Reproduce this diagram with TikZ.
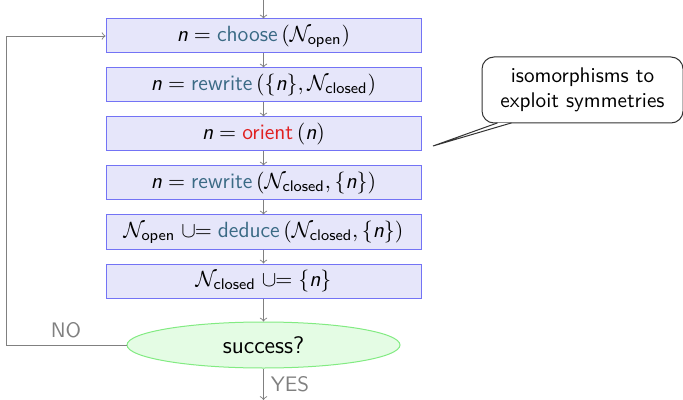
\documentclass[tikz,border=0pt]{standalone}
\usepackage{amsmath}
\usetikzlibrary{shapes.geometric}
\definecolor{fnblue}{RGB}{58,106,133}
\definecolor{fnred}{RGB}{224,32,32}
\definecolor{boxfill}{RGB}{230,230,250}
\definecolor{boxline}{RGB}{115,115,245}
\definecolor{ellfill}{RGB}{228,252,228}
\definecolor{ellline}{RGB}{130,235,130}
\definecolor{flowgray}{RGB}{128,128,128}
\newcommand{\nv}{\text{\sffamily\itshape n}}
\newcommand{\fn}[1]{\text{\sffamily\color{fnblue}#1}}
\newcommand{\sub}[1]{\text{\sffamily #1}}
\newcommand{\cupeq}{\mathrel{\cup\!\!=}}
\begin{document}
\begin{tikzpicture}[x=0.5pt,y=-0.5pt,
  stepbox/.style={draw=boxline,fill=boxfill,line width=0.5pt,minimum width=157.5pt,minimum height=17pt,inner sep=0pt,font=\sffamily\fontsize{11}{13}\selectfont},
  decision/.style={ellipse,draw=ellline,fill=ellfill,line width=0.5pt,minimum width=136.5pt,minimum height=23pt,inner sep=0pt,font=\sffamily\fontsize{12}{14}\selectfont},
  flow/.style={draw=flowgray,line width=0.45pt,-to},
  lbl/.style={text=flowgray,font=\sffamily\fontsize{10.5}{12}\selectfont},
  note/.style={draw=black!80,fill=white,rounded corners=6pt,line width=0.5pt,minimum width=100.5pt,minimum height=33pt,align=center,inner sep=0pt,font=\sffamily\fontsize{10.6}{12.5}\selectfont}]
\useasboundingbox (0,0) rectangle (683,400);
\coordinate (top) at (263.5,0);
\node[stepbox] (b1) at (263.5,36) {$\nv = \fn{choose}\,(\mathcal{N}_{\sub{open}})$};
\node[stepbox] (b2) at (263.5,85) {$\nv = \fn{rewrite}\,(\{\nv\},\mathcal{N}_{\sub{closed}})$};
\node[stepbox] (b3) at (263.5,134) {$\nv = \text{\sffamily\color{fnred}orient}\,(\nv)$};
\node[stepbox] (b4) at (263.5,183) {$\nv = \fn{rewrite}\,(\mathcal{N}_{\sub{closed}},\{\nv\})$};
\node[stepbox] (b5) at (263.5,232) {$\mathcal{N}_{\sub{open}} \cupeq \fn{deduce}\,(\mathcal{N}_{\sub{closed}},\{\nv\})$};
\node[stepbox] (b6) at (263.5,281) {$\mathcal{N}_{\sub{closed}} \cupeq \{\nv\}$};
\node[decision] (ok) at (263.5,345) {success?};
\coordinate (bottom) at (263.5,400);
\coordinate (loop) at (6,345);
\draw[flow] (top) -- (b1);
\draw[flow] (b1) -- (b2);
\draw[flow] (b2) -- (b3);
\draw[flow] (b3) -- (b4);
\draw[flow] (b4) -- (b5);
\draw[flow] (b5) -- (b6);
\draw[flow] (b6) -- (ok);
\draw[flow] (ok) -- (bottom);
\draw[flow] (ok.west) -- (loop) |- (b1.west);
\node[lbl] (no) at (66,330) {NO};
\node[lbl] (yes) at (290,384) {YES};
\node[note] (cl) at (582.5,90) {isomorphisms to\\exploit symmetries};
\coordinate (tip) at (433,146);
\filldraw[draw=black!80,fill=white,line width=0.5pt] ([xshift=8pt,yshift=0.3pt]cl.south west) -- (tip) -- ([xshift=15pt,yshift=0.3pt]cl.south west);
\end{tikzpicture}
\end{document}
